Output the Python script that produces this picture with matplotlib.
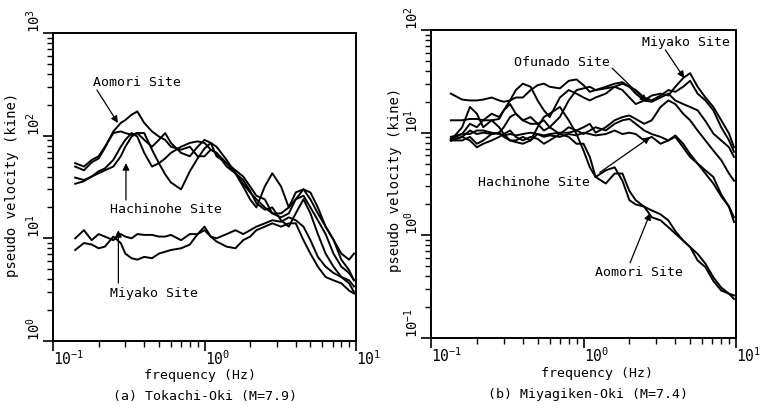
import matplotlib
matplotlib.use("Agg")
import matplotlib.pyplot as plt
from matplotlib.ticker import LogLocator, NullFormatter

plt.rcParams['font.family'] = ['DejaVu Sans Mono']
plt.rcParams['mathtext.fontset'] = 'custom'
plt.rcParams['mathtext.rm'] = 'DejaVu Sans Mono'
plt.rcParams['mathtext.it'] = 'DejaVu Sans Mono'

# ---- (a) Tokachi-Oki ----
freq_a = [0.14, 0.16, 0.18, 0.2, 0.22, 0.25, 0.28, 0.3, 0.33, 0.36, 0.4, 0.45, 0.5,
          0.55, 0.6, 0.7, 0.8, 0.9, 1.0, 1.1, 1.2, 1.4, 1.6, 1.8, 2.0, 2.2, 2.5, 2.8,
          3.2, 3.6, 4.0, 4.5, 5.0, 5.6, 6.3, 7.1, 8.0, 9.0, 9.7]
aomori_a1 = [50, 46, 55, 60, 76, 110, 133, 142, 160, 172, 133, 110, 98, 91, 78, 73, 78,
             63, 63, 73, 68, 50, 43, 34, 28, 24, 20, 17.5, 16, 17.5, 24, 26, 20, 15, 11,
             7.1, 5.3, 4.6, 3.9]
aomori_a2 = [54, 50, 58, 63, 78, 106, 110, 106, 102, 106, 106, 73, 54, 42, 35, 30, 45,
             60, 75, 85, 78, 58, 43, 32, 24, 20, 32, 43, 32, 20, 24, 30, 28, 20, 13, 9.7,
             7.1, 6.2, 7.1]
hachi_a1 = [39, 37, 40, 43, 46, 50, 63, 78, 98, 106, 91, 78, 91, 106, 85, 68, 63, 78, 91,
            85, 63, 54, 43, 37, 29, 22, 19, 20, 15, 13, 17.5, 24, 17.5, 11, 7.1, 5.3, 4.2,
            3.65, 3.0]
hachi_a2 = [34, 36, 40, 45, 48, 58, 78, 91, 106, 98, 68, 50, 54, 60, 68, 78, 85, 88, 85,
            73, 68, 54, 46, 40, 32, 26, 24, 17.5, 17.5, 20, 28, 30, 24, 17.5, 13, 9.7,
            6.2, 4.9, 3.9]
miyako_a1 = [10, 12, 9.6, 11, 10.4, 9.6, 11, 10.4, 10, 11, 10.8, 10.8, 10.4, 10.4, 10.8,
             9.6, 11, 11, 13, 10.4, 10, 11, 12, 11, 12, 13, 14, 15, 14.5, 16, 15, 13, 9.6,
             6.6, 5.3, 4.6, 4.2, 3.9, 3.4]
miyako_a2 = [7.7, 9, 8.7, 8, 8.3, 10.4, 9, 7.1, 6.4, 6.2, 6.6, 6.4, 7.1, 7.4, 7.7, 8,
             8.7, 11, 12, 10.4, 9.3, 8.3, 8, 9.6, 10.4, 12, 13, 14, 13, 14, 14, 9.6, 7.1,
             5.3, 4.2, 3.9, 3.65, 3.1, 2.9]

# ---- (b) Miyagiken-Oki ----
freq_b = [0.135, 0.16, 0.18, 0.2, 0.22, 0.25, 0.28, 0.3, 0.33, 0.36, 0.4, 0.45, 0.5,
          0.55, 0.6, 0.7, 0.8, 0.9, 1.0, 1.1, 1.2, 1.4, 1.6, 1.8, 2.0, 2.2, 2.5, 2.8,
          3.2, 3.6, 4.0, 4.5, 5.0, 5.6, 6.3, 7.1, 8.0, 9.0, 9.7]
ofunado_b1 = [24, 21, 20.6, 20.6, 21, 22, 20.6, 20, 20.6, 22, 22, 26, 29, 30, 28, 27, 32,
              33, 29, 25, 26, 28, 30, 31, 28, 24, 20.6, 20, 22, 24, 20.6, 19, 17.8, 16.5,
              13, 9.8, 8.4, 7.2, 5.8]
miyako_b1 = [8.7, 9.7, 12.2, 11.3, 13.2, 15.3, 14.2, 16.5, 19, 15.3, 13.2, 14.2, 12.2,
             10.5, 11.3, 14.2, 20.6, 26, 27, 28, 26, 27, 28, 26, 22, 19, 20.6, 23, 24, 23,
             28, 34, 38, 28, 22, 17.8, 13.2, 9.8, 7.2]
miyako_b2 = [13.2, 13.2, 13.6, 13.6, 13.2, 13.2, 13.6, 16.5, 20.6, 26, 30, 28, 20.6, 16.5,
             14.2, 22, 26, 24, 22, 20.6, 22, 24, 28, 30, 28, 26, 22, 20.6, 23, 26, 25, 28,
             32, 24, 20.6, 16.5, 11.3, 8.4, 6.5]
ofunado_b2 = [8.4, 9.1, 10.5, 9.7, 10, 9.7, 10, 11.3, 14.2, 15.3, 13.2, 12.2, 12.2, 13.2,
              11.3, 9.7, 11.3, 10.5, 11.3, 12.2, 10, 11.3, 13.2, 14.2, 14.7, 13.6, 12.2,
              13.2, 17.8, 20.6, 19, 15.3, 13.2, 10.5, 8.4, 6.7, 5.4, 4.0, 3.4]
hachi_b1 = [9.1, 9.7, 9.7, 10.5, 10.5, 10, 9.7, 9.4, 9.7, 9.4, 9.7, 10, 9.7, 9.4, 9.7, 10,
            10, 10.5, 9.7, 10.5, 11.3, 10.5, 12.2, 13.2, 13.6, 12.2, 10.5, 9.7, 9.1, 8.4,
            9.4, 7.8, 6.2, 5.0, 4.3, 3.7, 2.5, 1.9, 1.35]
hachi_b2 = [8.4, 8.4, 9.1, 7.8, 8.4, 9.7, 10, 9.1, 8.4, 8.1, 7.8, 8.4, 9.7, 9.1, 9.4, 9.1,
            9.7, 9.4, 10, 9.7, 9.4, 9.7, 10.5, 9.7, 10, 9.7, 8.4, 9.1, 7.8, 8.4, 9.1, 7.2,
            5.8, 5.0, 4.0, 3.2, 2.4, 1.9, 1.5]
aomori_b1 = [8.4, 9.1, 8.4, 7.2, 7.8, 8.4, 9.1, 9.7, 10.5, 9.1, 8.4, 9.1, 8.7, 7.8, 8.4,
             9.7, 9.1, 7.8, 7.8, 5.8, 3.7, 3.2, 4.0, 4.0, 2.7, 2.2, 1.9, 1.75, 1.6, 1.4,
             1.1, 0.89, 0.77, 0.66, 0.53, 0.39, 0.31, 0.27, 0.24]
aomori_b2 = [8.4, 11.3, 17.8, 15.3, 11.3, 13.2, 11.3, 9.7, 8.4, 8.4, 9.1, 8.4, 11.3, 14.2,
             15.3, 17.8, 13.2, 9.7, 6.7, 4.6, 3.7, 4.3, 4.6, 3.4, 2.2, 2.0, 1.9, 1.5, 1.4,
             1.2, 1.04, 0.89, 0.77, 0.57, 0.49, 0.36, 0.29, 0.27, 0.26]

fig = plt.figure(figsize=(7.62, 4.15), dpi=100)
ax1 = fig.add_axes([0.0696, 0.1783, 0.3976, 0.7422])
ax2 = fig.add_axes([0.5656, 0.1855, 0.4003, 0.7422])

for y in [aomori_a1, aomori_a2, hachi_a1, hachi_a2, miyako_a1, miyako_a2]:
    ax1.plot(freq_a, y, color='black', lw=1.4)
for y in [ofunado_b1, ofunado_b2, miyako_b1, miyako_b2, hachi_b1, hachi_b2,
          aomori_b1, aomori_b2]:
    ax2.plot(freq_b, y, color='black', lw=1.4)


def style_axis(ax, ylo, yhi, ylabels):
    ax.set_xscale('log')
    ax.set_yscale('log')
    ax.set_xlim(0.1, 10)
    ax.set_ylim(ylo, yhi)
    ax.set_xticks([0.1, 1, 10])
    ax.set_xticklabels(['$10^{-1}$', '$10^{0}$', '$10^{1}$'], ha='left', fontsize=10.5)
    ax.set_yticks(ylabels[0])
    ax.set_yticklabels(ylabels[1], rotation=90, va='bottom', fontsize=10)
    for axis in (ax.xaxis, ax.yaxis):
        axis.set_minor_locator(LogLocator(base=10, subs=range(2, 10)))
        axis.set_minor_formatter(NullFormatter())
    ax.tick_params(which='major', direction='out', length=7, width=1.2)
    ax.tick_params(axis='x', which='major', pad=-1)
    ax.tick_params(axis='y', which='major', pad=0)
    ax.tick_params(which='minor', direction='out', length=4.5, width=1.0)
    ax.tick_params(top=False, right=False)
    for sp in ax.spines.values():
        sp.set_linewidth(1.4)


style_axis(ax1, 1, 1000, ([1, 10, 100, 1000],
                          ['$10^{0}$', '$10^{1}$', '$10^{2}$', '$10^{3}$']))
style_axis(ax2, 0.1, 100, ([0.1, 1, 10, 100],
                           ['$10^{-1}$', '$10^{0}$', '$10^{1}$', '$10^{2}$']))

arrow = dict(arrowstyle='-|>', color='black', lw=0.9, mutation_scale=10,
             shrinkA=0, shrinkB=0)
fs = 9.5

# labels with arrows, panel (a)
ax1.text(0.184, 333, 'Aomori Site', fontsize=fs, va='center', ha='left')
ax1.annotate('', xy=(0.268, 133), xytext=(0.195, 278), arrowprops=arrow)
ax1.text(0.238, 18.9, 'Hachinohe Site', fontsize=fs, va='center', ha='left')
ax1.annotate('', xy=(0.303, 54), xytext=(0.303, 23.6), arrowprops=arrow)
ax1.text(0.238, 2.93, 'Miyako Site', fontsize=fs, va='center', ha='left')
ax1.annotate('', xy=(0.27, 12), xytext=(0.27, 3.67), arrowprops=arrow)

# labels with arrows, panel (b)
ax2.text(2.42, 76, 'Miyako Site', fontsize=fs, va='center', ha='left')
ax2.annotate('', xy=(4.58, 34), xytext=(3.44, 64), arrowprops=arrow)
ax2.text(0.352, 48.6, 'Ofunado Site', fontsize=fs, va='center', ha='left')
ax2.annotate('', xy=(2.61, 19.9), xytext=(1.54, 42.5), arrowprops=arrow)
ax2.text(0.204, 3.3, 'Hachinohe Site', fontsize=fs, va='center', ha='left')
ax2.annotate('', xy=(2.74, 9.06), xytext=(1.28, 4.1), arrowprops=arrow)
ax2.text(1.19, 0.43, 'Aomori Site', fontsize=fs, va='center', ha='left')
ax2.annotate('', xy=(2.74, 1.65), xytext=(2.02, 0.54), arrowprops=arrow)

# axis titles and captions
fig.text(0.0157, 0.554, 'pseudo velocity (kine)', rotation=90, fontsize=10,
         ha='center', va='center')
fig.text(0.519, 0.566, 'pseudo velocity (kine)', rotation=90, fontsize=10,
         ha='center', va='center')
fig.text(0.2625, 0.094, 'frequency (Hz)', fontsize=fs, ha='center', va='center')
fig.text(0.7835, 0.099, 'frequency (Hz)', fontsize=fs, ha='center', va='center')
fig.text(0.269, 0.0434, '(a) Tokachi-Oki (M=7.9)', fontsize=fs, ha='center', va='center')
fig.text(0.7717, 0.0482, '(b) Miyagiken-Oki (M=7.4)', fontsize=fs, ha='center',
         va='center')

fig.savefig('out.png', dpi=100)
